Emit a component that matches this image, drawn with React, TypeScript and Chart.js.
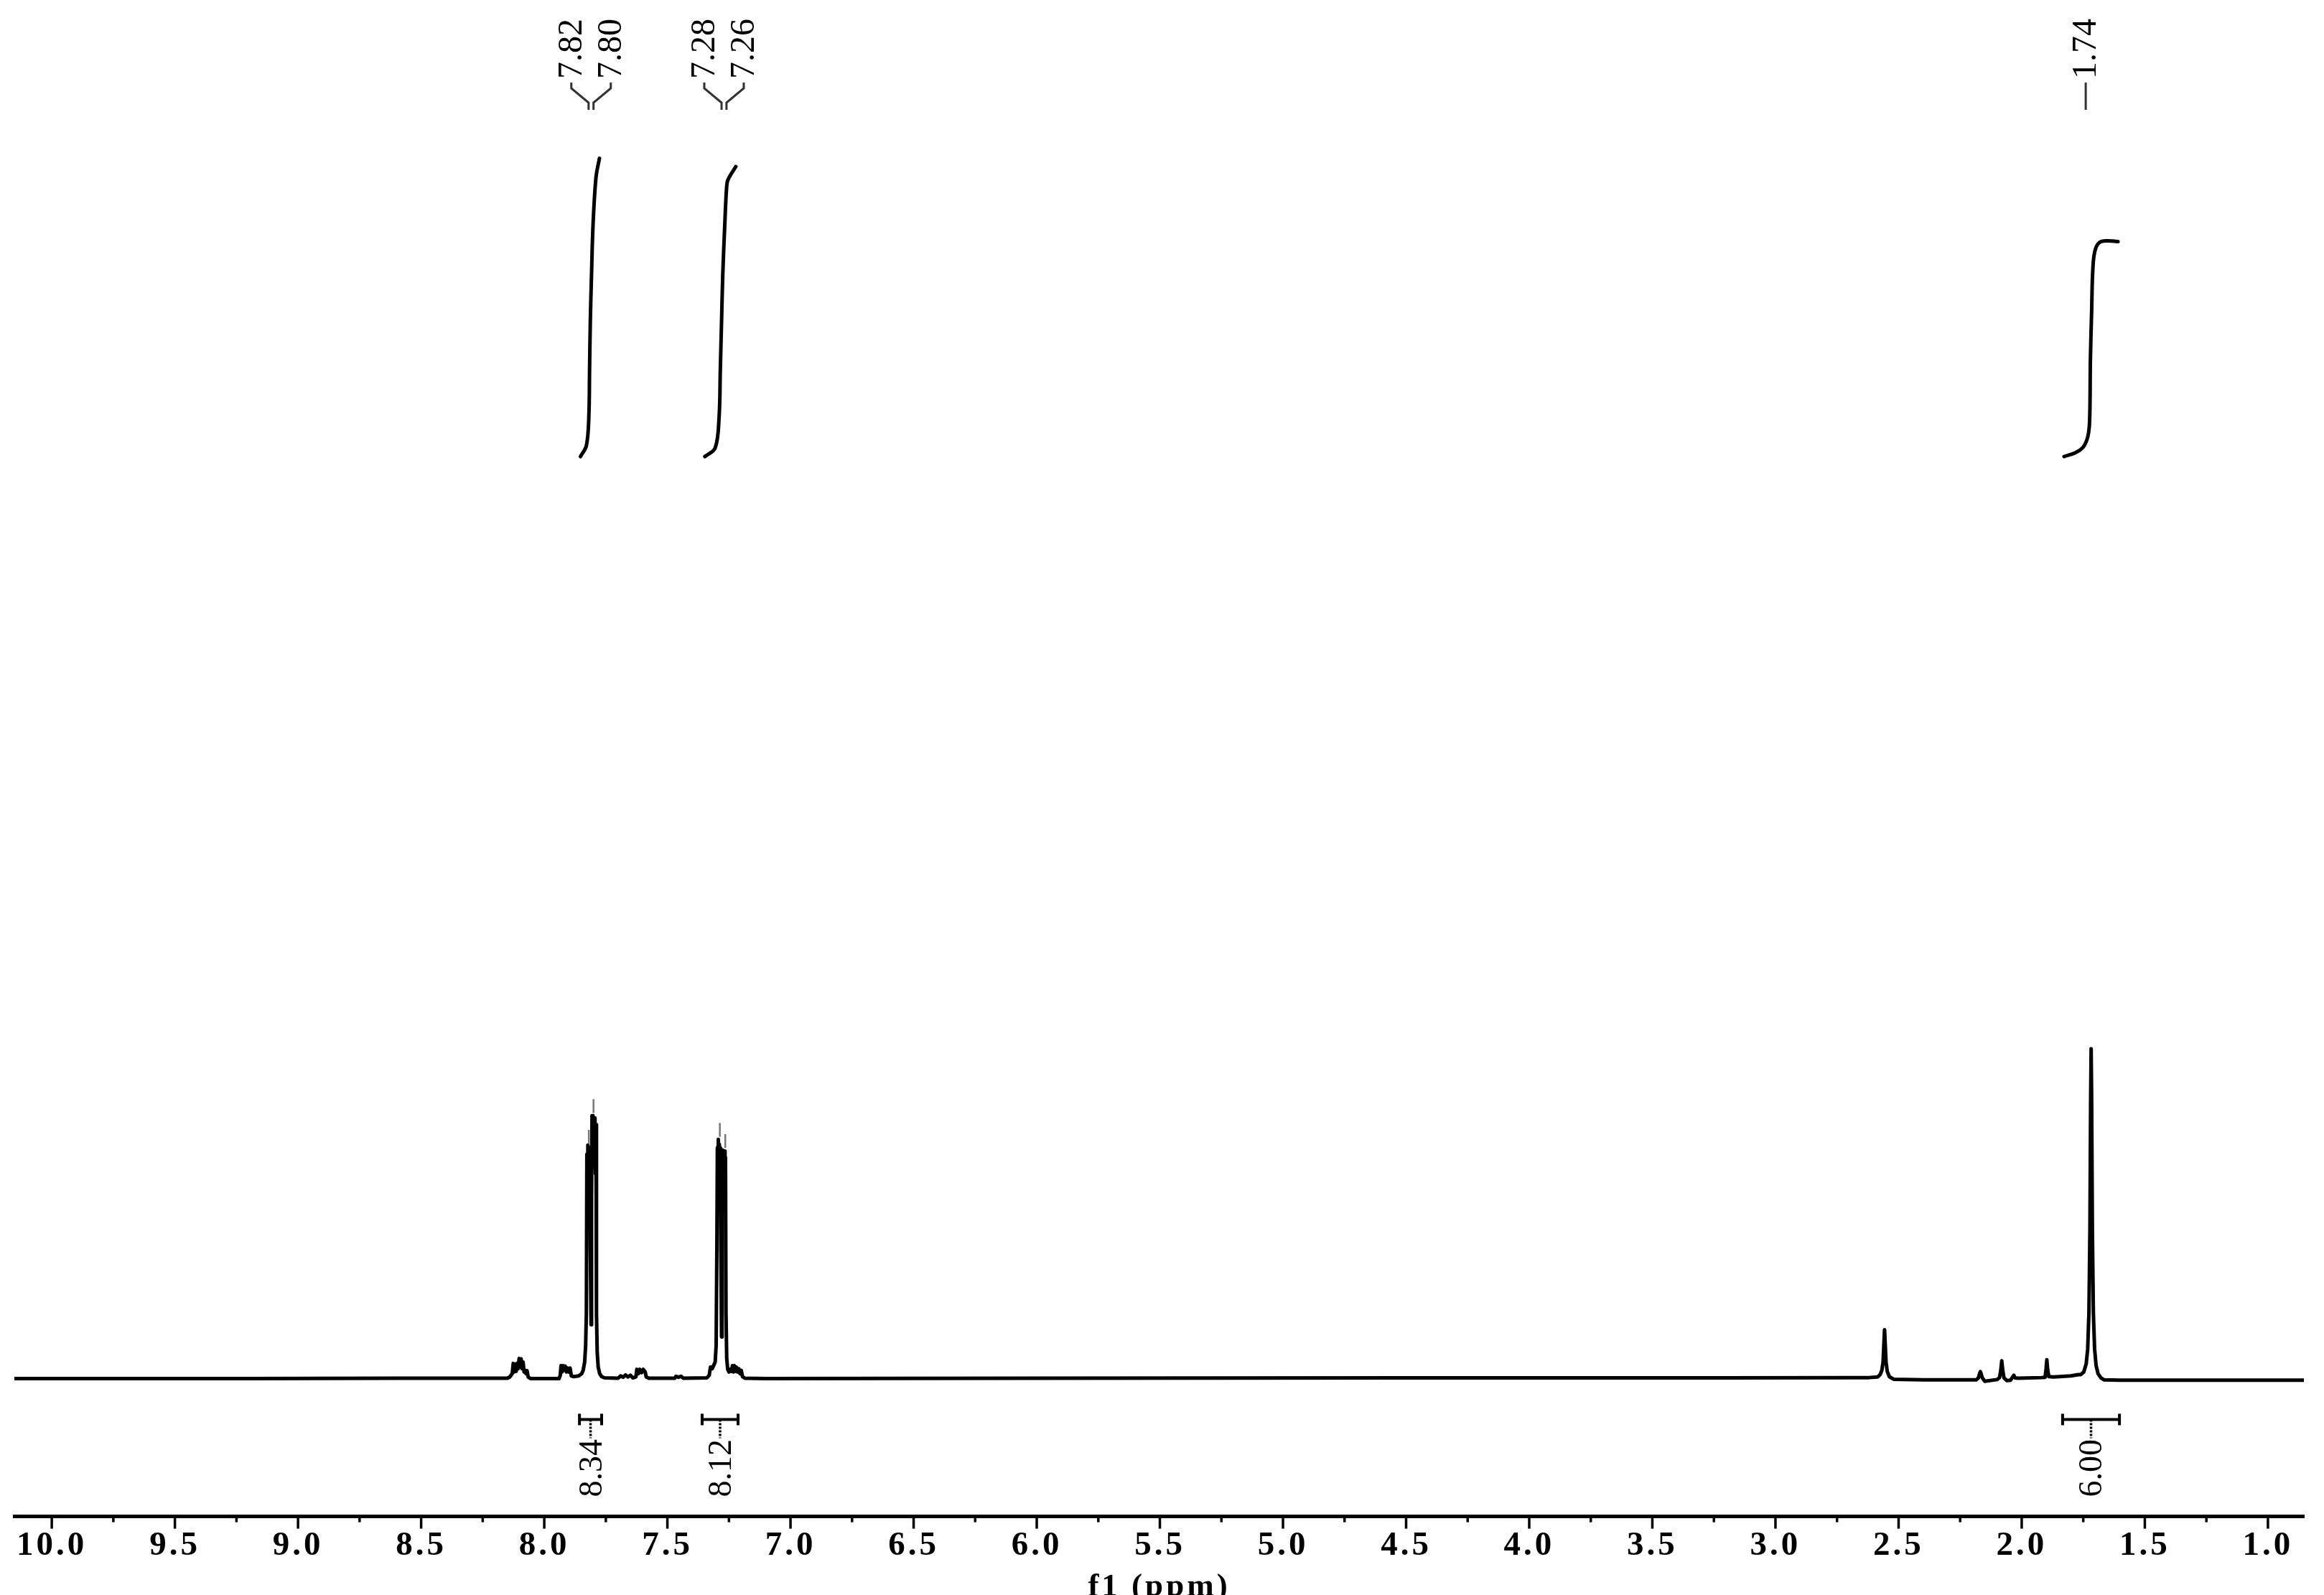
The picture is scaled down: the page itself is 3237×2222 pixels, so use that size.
import React, { useEffect, useRef } from 'react';
import { Chart, registerables } from 'chart.js';

Chart.register(...registerables);

// ---------- data (ppm, intensity) ----------
const region81: number[][] = [
  [10.152, 0.0], [9.2, 0.0], [8.6, 0.1], [8.150, 0.1], [8.140, 0.5], [8.130, 1.5], [8.126, 4.6], [8.122, 2.0],
  [8.118, 4.4], [8.114, 2.2], [8.110, 4.6], [8.106, 3.0], [8.102, 6.1], [8.098, 3.5], [8.094, 6.0], [8.090, 3.0],
  [8.086, 5.0], [8.082, 2.0], [8.078, 2.5], [8.074, 1.5], [8.070, 2.4], [8.065, 0.4], [8.055, 0.0],
];
const region79: number[][] = [
  [7.940, 0.0], [7.935, 1.0], [7.932, 3.9], [7.928, 2.0], [7.924, 3.9], [7.920, 2.5], [7.915, 3.8], [7.910, 2.0],
  [7.905, 3.2], [7.900, 2.0], [7.895, 3.2], [7.890, 0.8], [7.880, 0.6], [7.860, 0.8], [7.848, 1.5], [7.842, 2.5],
  [7.836, 5.0], [7.832, 10.0],
];
const region78: number[][] = [
  [7.829, 20.0], [7.827, 68.0], [7.825, 55.0], [7.823, 70.8], [7.821, 58.0], [7.819, 69.0], [7.817, 56.0],
  [7.815, 70.0], [7.813, 40.0], [7.810, 16.3], [7.808, 55.0], [7.806, 79.7], [7.804, 66.0], [7.802, 79.7],
  [7.800, 66.0], [7.798, 78.0], [7.796, 64.0], [7.794, 79.0], [7.792, 62.0], [7.790, 77.0], [7.788, 20.0],
  [7.785, 8.0], [7.781, 3.5], [7.775, 1.5], [7.767, 0.6], [7.755, 0.2],
];
const region76: number[][] = [
  [7.700, 0.1], [7.690, 0.8], [7.680, 0.4], [7.670, 1.1], [7.660, 0.5], [7.650, 1.0], [7.640, 0.2], [7.628, 0.5],
  [7.624, 2.8], [7.618, 1.5], [7.612, 2.8], [7.605, 1.8], [7.598, 2.8], [7.590, 2.0], [7.586, 0.5], [7.575, 0.1],
  [7.470, 0.1], [7.465, 0.7], [7.455, 0.4], [7.445, 0.7], [7.435, 0.1],
];
const region73: number[][] = [
  [7.340, 0.2], [7.330, 1.0], [7.325, 3.5], [7.318, 3.0], [7.312, 4.0], [7.306, 5.0], [7.302, 10.0], [7.299, 40.0],
  [7.297, 70.0], [7.295, 58.0], [7.293, 72.5], [7.291, 58.0], [7.289, 71.0], [7.287, 56.0], [7.285, 70.0],
  [7.283, 40.0], [7.280, 12.6], [7.278, 50.0], [7.276, 69.3], [7.274, 56.0], [7.272, 68.0], [7.270, 56.0],
  [7.268, 69.0], [7.266, 55.0], [7.264, 67.0], [7.262, 20.0], [7.259, 6.0], [7.255, 2.8], [7.250, 2.0],
  [7.245, 2.8], [7.240, 2.2], [7.236, 3.9], [7.232, 2.0], [7.228, 3.9], [7.224, 2.2], [7.220, 3.5], [7.215, 2.0],
  [7.210, 3.0], [7.205, 1.5], [7.200, 2.5], [7.195, 0.6], [7.185, 0.1],
];
const baselineMid: number[][] = [[7.10, 0.0], [6.0, 0.1], [4.5, 0.2], [3.2, 0.2], [2.70, 0.3]];
const region25: number[][] = [
  [2.620, 0.3], [2.585, 0.5], [2.575, 1.2], [2.568, 2.5], [2.563, 5.0], [2.560, 10.0], [2.557, 14.8],
  [2.554, 10.0], [2.551, 5.0], [2.546, 2.2], [2.538, 0.6], [2.520, -0.2], [2.400, -0.4],
];
const region21: number[][] = [
  [2.185, -0.4], [2.176, 0.2], [2.171, 1.5], [2.168, 2.1], [2.165, 1.5], [2.160, 0.2], [2.150, -0.8],
  [2.100, -0.3], [2.090, 0.3], [2.085, 2.5], [2.081, 5.4], [2.077, 2.5], [2.072, 0.2], [2.060, -0.6],
  [2.045, -0.5], [2.037, 0.5], [2.032, 1.0], [2.027, 0.2], [2.015, 0.1], [1.920, 0.3], [1.905, 0.4],
  [1.901, 3.0], [1.898, 5.7], [1.895, 3.0], [1.890, 0.6], [1.870, 0.5], [1.800, 0.8], [1.770, 1.2],
];
const region17: number[][] = [
  [1.760, 1.2], [1.748, 2.0], [1.738, 4.5], [1.732, 9.0], [1.727, 20.0], [1.723, 45.0], [1.720, 85.0],
  [1.718, 100.0], [1.716, 85.0], [1.713, 45.0], [1.709, 20.0], [1.704, 9.0], [1.698, 4.0], [1.690, 1.5],
  [1.678, 0.2], [1.665, -0.4], [1.600, -0.5], [0.854, -0.5],
];

// integral curves (ppm, integral height in same units)
const integralCurve1: number[][] = [
  [7.853, 279.5], [7.829, 282.8], [7.819, 291.5], [7.816, 306.0], [7.813, 320.5], [7.808, 334.9],
  [7.802, 349.6], [7.790, 364.1], [7.776, 369.9],
];
const integralCurve2: number[][] = [
  [7.348, 279.5], [7.306, 282.1], [7.290, 291.5], [7.285, 306.0], [7.280, 320.5], [7.275, 334.9],
  [7.267, 349.6], [7.260, 360.5], [7.254, 363.4], [7.222, 367.4],
];
const integralCurve3: number[][] = [
  [1.828, 279.5], [1.784, 280.6], [1.750, 282.4], [1.731, 285.7], [1.724, 290.8], [1.721, 309.0],
  [1.716, 323.5], [1.711, 336.5], [1.701, 342.3], [1.677, 344.7], [1.609, 344.7],
];

// integration ranges and values
const integralRanges: number[][] = [[7.857, 7.767], [7.359, 7.213], [1.834, 1.603]];
const integralValues: number[] = [8.34, 8.12, 6.0];

// peak picking labels (grouped)
const peakLabelGroups: number[][] = [[7.82, 7.80], [7.28, 7.26], [1.74]];
// peak-pick markers: [ppm, top intensity]
const peakMarkers: number[][] = [[7.819, 75.4], [7.800, 84.7], [7.287, 77.5], [7.265, 74.1]];

// axis
const ppmRange: number[] = [0.854, 10.152];
const intensityRange: number[] = [-41.8, 417.9];
const tickValues: number[] = [
  10, 9.75, 9.5, 9.25, 9, 8.75, 8.5, 8.25, 8, 7.75, 7.5, 7.25, 7, 6.75, 6.5, 6.25, 6, 5.75, 5.5, 5.25,
  5, 4.75, 4.5, 4.25, 4, 3.75, 3.5, 3.25, 3, 2.75, 2.5, 2.25, 2, 1.75, 1.5, 1.25, 1,
];
const axisTitle = 'f1 (ppm)';

const FONT = '"Liberation Serif", "Times New Roman", serif';

const toXY = (arr: number[][]) => arr.map(([x, y]) => ({ x, y }));

const isMajor = (v: number) => Math.abs(v * 2 - Math.round(v * 2)) < 1e-6;

const nmrPlugin = {
  id: 'nmrDecor',
  beforeDraw(chart: any) {
    // wide character spacing for the axis labels, as in the original
    (chart.ctx as any).letterSpacing = '4px';
  },
  afterDraw(chart: any) {
    const { ctx, chartArea: area, scales } = chart;
    const xs = scales.x;
    const ys = scales.y;
    ctx.save();
    (ctx as any).letterSpacing = '0px';
    ctx.lineCap = 'butt';

    // axis ticks (major / minor)
    ctx.strokeStyle = '#000';
    ctx.lineWidth = 3.5;
    for (const t of xs.ticks) {
      const px = xs.getPixelForValue(t.value);
      ctx.beginPath();
      ctx.moveTo(px, area.bottom);
      ctx.lineTo(px, area.bottom + (isMajor(t.value) ? 17 : 8));
      ctx.stroke();
    }

    // peak-pick markers
    ctx.strokeStyle = '#777';
    ctx.lineWidth = 2.5;
    for (const [ppm, top] of peakMarkers) {
      const px = xs.getPixelForValue(ppm);
      ctx.beginPath();
      ctx.moveTo(px, ys.getPixelForValue(top - 4.2));
      ctx.lineTo(px, ys.getPixelForValue(top));
      ctx.stroke();
    }

    // peak labels
    const labelBottom = area.top + 110;
    const spacing = 55;
    ctx.fillStyle = '#000';
    ctx.strokeStyle = '#333';
    ctx.lineWidth = 3;
    ctx.font = `48px ${FONT}`;
    for (const group of peakLabelGroups) {
      const pxs = group.map((v) => xs.getPixelForValue(v));
      const center = pxs.reduce((a, b) => a + b, 0) / pxs.length;
      group.forEach((v, i) => {
        const lx = center + (i - (group.length - 1) / 2) * spacing;
        ctx.save();
        ctx.translate(lx, labelBottom);
        ctx.rotate(-Math.PI / 2);
        ctx.textAlign = 'left';
        ctx.textBaseline = 'alphabetic';
        ctx.fillText(v.toFixed(2), 0, 14);
        ctx.restore();
        ctx.beginPath();
        ctx.moveTo(lx, area.top + 115);
        ctx.lineTo(lx, area.top + 123);
        ctx.lineTo(pxs[i], area.top + 143);
        ctx.lineTo(pxs[i], area.top + 153);
        ctx.stroke();
      });
    }

    // integration brackets and values
    const bracketY = ys.getPixelForValue(0) + 57;
    integralRanges.forEach(([a, b], i) => {
      const x1 = xs.getPixelForValue(a);
      const x2 = xs.getPixelForValue(b);
      const xc = (x1 + x2) / 2;
      ctx.strokeStyle = '#000';
      ctx.lineWidth = 4;
      ctx.beginPath();
      ctx.moveTo(x1, bracketY);
      ctx.lineTo(x2, bracketY);
      ctx.moveTo(x1, bracketY - 8);
      ctx.lineTo(x1, bracketY + 8);
      ctx.moveTo(x2, bracketY - 8);
      ctx.lineTo(x2, bracketY + 8);
      ctx.stroke();
      ctx.lineWidth = 3.5;
      ctx.setLineDash([3, 2]);
      ctx.beginPath();
      ctx.moveTo(xc, bracketY);
      ctx.lineTo(xc, bracketY + 26);
      ctx.stroke();
      ctx.setLineDash([]);
      ctx.save();
      ctx.translate(xc, bracketY + 108);
      ctx.rotate(-Math.PI / 2);
      ctx.font = `46px ${FONT}`;
      ctx.textAlign = 'left';
      ctx.textBaseline = 'alphabetic';
      ctx.fillStyle = '#000';
      ctx.fillText(integralValues[i].toFixed(2), 0, 15);
      ctx.restore();
    });

    ctx.restore();
  },
};

export default function App() {
  const canvasRef = useRef<HTMLCanvasElement | null>(null);

  useEffect(() => {
    const canvas = canvasRef.current;
    if (!canvas) return;
    const spectrum = [
      ...region81, ...region79, ...region78, ...region76, ...region73,
      ...baselineMid, ...region25, ...region21, ...region17,
    ];
    const lineStyle = {
      showLine: true,
      borderColor: '#000',
      backgroundColor: '#000',
      pointRadius: 0,
      pointHoverRadius: 0,
      fill: false,
      borderJoinStyle: 'round',
      borderCapStyle: 'round',
    };
    const chart = new Chart(canvas, {
      type: 'scatter',
      data: {
        datasets: [
          { ...lineStyle, data: toXY(spectrum), borderWidth: 5, tension: 0 },
          { ...lineStyle, data: toXY(integralCurve1), borderWidth: 5, tension: 0.35 },
          { ...lineStyle, data: toXY(integralCurve2), borderWidth: 5, tension: 0.35 },
          { ...lineStyle, data: toXY(integralCurve3), borderWidth: 5, tension: 0.35 },
        ],
      },
      options: {
        animation: false,
        responsive: false,
        devicePixelRatio: 1,
        events: [],
        layout: { padding: { left: 20, right: 28, top: 0, bottom: 0 } },
        plugins: {
          legend: { display: false },
          tooltip: { enabled: false },
        },
        scales: {
          x: {
            type: 'linear',
            reverse: true,
            min: ppmRange[0],
            max: ppmRange[1],
            position: 'bottom',
            border: { display: true, color: '#000', width: 5 },
            grid: {
              display: true,
              drawOnChartArea: false,
              drawTicks: true,
              tickLength: 13,
              tickColor: 'rgba(0,0,0,0)',
            },
            afterBuildTicks: (scale: any) => {
              scale.ticks = tickValues.map((v) => ({ value: v, major: isMajor(v) }));
            },
            ticks: {
              autoSkip: false,
              maxRotation: 0,
              minRotation: 0,
              padding: 0,
              color: '#000',
              font: { family: FONT, size: 47, weight: 'bold' },
              callback: (value: any) => (isMajor(Number(value)) ? Number(value).toFixed(1) : ''),
            },
            title: {
              display: true,
              text: axisTitle,
              color: '#000',
              font: { family: FONT, size: 45, weight: 'bold' },
              padding: { top: 2, bottom: 4 },
            },
          },
          y: {
            type: 'linear',
            display: false,
            min: intensityRange[0],
            max: intensityRange[1],
          },
        },
      },
      plugins: [nmrPlugin],
    } as any);
    return () => chart.destroy();
  }, []);

  return (
    <div style={{ position: 'fixed', left: 0, top: 0, width: 3237, height: 2242, background: '#fff' }}>
      <canvas ref={canvasRef} width={3237} height={2242} style={{ width: 3237, height: 2242, display: 'block' }} />
    </div>
  );
}
